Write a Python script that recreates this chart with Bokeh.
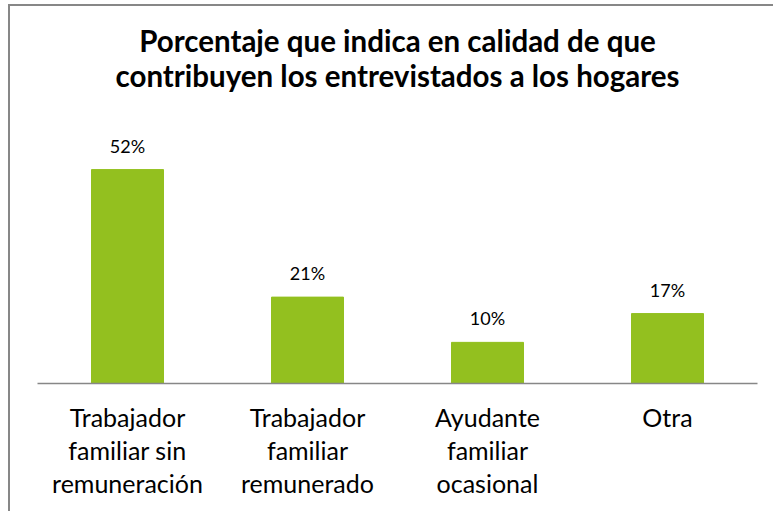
from bokeh.plotting import figure
from bokeh.models import ColumnDataSource, FixedTicker, Title
from bokeh.core.properties import value
from bokeh.embed import file_html
from bokeh.resources import INLINE

categories = ["Trabajador\nfamiliar sin\nremuneración", "Trabajador\nfamiliar\nremunerado",
              "Ayudante\nfamiliar\nocasional", "Otra"]
values = [52, 21, 10, 17]
labels = ["52%", "21%", "10%", "17%"]
title_lines = ["Porcentaje que indica en calidad de que",
               "contribuyen los entrevistados a los hogares"]

xs = list(range(len(categories)))
src = ColumnDataSource(dict(x=xs, top=values, lab=labels))

FONT = "Lato"

p = figure(width=765, height=507, output_backend="svg", toolbar_location=None,
           x_range=(-0.5, 3.5), y_range=(0, 61.5),
           min_border_left=29, min_border_right=16, min_border_top=126, min_border_bottom=128)
p.styles = {"margin-left": "8px", "margin-top": "4px",
            "box-shadow": "inset 2px 2px 0 0 #878787"}
p.border_fill_alpha = 0
p.background_fill_color = "white"
p.outline_line_color = None

# spacer between the title block and the frame
p.add_layout(Title(text=" ", text_font_size="1px", standoff=35), "above")
standoffs = [-4, 0]
for t, s in reversed(list(zip(title_lines, standoffs))):
    p.add_layout(Title(text=t, align="center", text_font=FONT, text_font_style="bold",
                       text_font_size="29.5px", text_color="#000000", standoff=s), "above")

p.vbar(x="x", top="top", width=0.4, source=src, color="#93C01F")
p.text(x="x", y="top", text="lab", source=src, y_offset=-24, text_align="center",
       text_baseline="alphabetic", text_font=value(FONT), text_font_size="18px", text_color="#000000")

p.xgrid.visible = False
p.ygrid.visible = False
p.yaxis.visible = False

ax = p.xaxis[0]
ax.ticker = FixedTicker(ticks=xs)
ax.major_label_overrides = {i: c for i, c in zip(xs, categories)}
ax.major_tick_line_color = None
ax.minor_tick_line_color = None
ax.axis_line_color = "#878787"
ax.axis_line_width = 1.5
ax.major_label_text_font = FONT
ax.major_label_text_font_size = "25px"
ax.major_label_text_color = "#000000"
ax.major_label_text_line_height = 1.1
ax.major_label_standoff = 12

open("out.html", "w").write(file_html(p, INLINE))
